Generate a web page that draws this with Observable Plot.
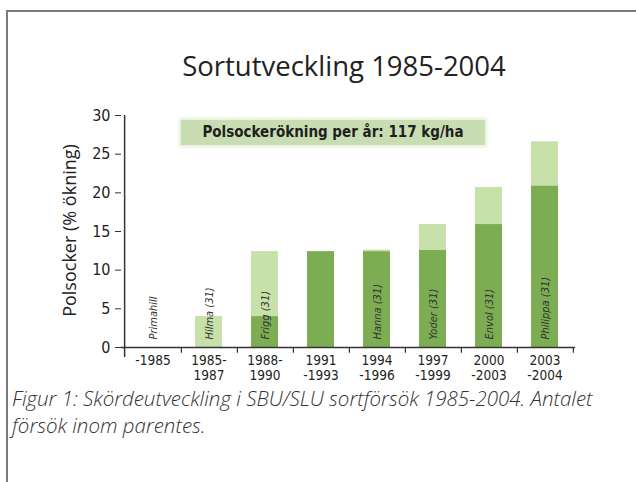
<!DOCTYPE html>
<html>
<head>
<meta charset="utf-8">
<script src="https://cdn.jsdelivr.net/npm/d3@7"></script>
<script src="https://cdn.jsdelivr.net/npm/@observablehq/plot@0.6"></script>
<style>
  body { margin: 0; background: #fff; }
  #wrap { position: relative; width: 636px; height: 482px; overflow: hidden; background: #fff; }
  #frame { position: absolute; left: 6px; top: 10px; width: 660px; height: 500px;
           border-left: 2px solid #7b7b7b; border-top: 2px solid #7b7b7b; }
  #title { position: absolute; left: 0; width: 688px; top: 47px; text-align: center;
           font-family: "Open Sans", sans-serif; font-size: 27.5px; color: #222; }
  #chart { position: absolute; left: 0; top: 0; }
  #badge { position: absolute; left: 181px; top: 120px; width: 304px; height: 25px;
           background: #c9ddb3; box-shadow: 0 0 3px 2px #e6f0d9;
           font-family: "DejaVu Sans Condensed", "DejaVu Sans", sans-serif; font-weight: bold;
           font-size: 15px; line-height: 25px; text-align: center; color: #1f1f1f; }
  #caption { position: absolute; left: 12px; top: 385px; width: 618px;
             font-family: "Open Sans", sans-serif; font-style: italic; font-weight: 300;
             font-size: 20.5px; line-height: 27px; color: #333; }
</style>
</head>
<body>
<div id="wrap">
  <div id="frame"></div>
  <div id="title">Sortutveckling 1985-2004</div>
  <div id="chart"></div>
  <div id="badge">Polsockerökning per år: 117 kg/ha</div>
  <div id="caption">Figur 1: Skördeutveckling i SBU/SLU sortförsök 1985-2004. Antalet försök inom parentes.</div>
</div>
<script>
// ---- data ----
const periods = ["-1985", "1985-1987", "1988-1990", "1991-1993", "1994-1996", "1997-1999", "2000-2003", "2003-2004"];
const tickLabels = ["-1985", "1985-\n1987", "1988-\n1990", "1991\n-1993", "1994\n-1996", "1997\n-1999", "2000\n-2003", "2003\n-2004"];
const varieties = ["Primahill", "Hilma (31)", "Frigg (31)", "", "Hanna (31)", "Yoder (31)", "Envol (31)", "Philippa (31)"];
// dark part: level of the previous variety; light part: gain of the new variety
const baseLevel = [0, 0, 4.0, 12.4, 12.4, 12.6, 15.9, 20.9];
const gainLevel = [0, 4.0, 8.4, 0, 0.2, 3.3, 4.8, 5.7];
const yTicks = [0, 5, 10, 15, 20, 25, 30];
const yTitle = "Polsocker (% ökning)";

const rows = [];
periods.forEach((p, i) => {
  rows.push({period: p, part: "base", value: baseLevel[i]});
  rows.push({period: p, part: "gain", value: gainLevel[i]});
});
const labelRows = periods.map((p, i) => ({period: p, name: varieties[i]})).filter(d => d.name);

const W = 636, H = 400, ML = 121, MR = 61;
const step = (W - ML - MR) / periods.length;

const chart = Plot.plot({
  width: W,
  height: H,
  marginLeft: ML,
  marginRight: MR,
  marginTop: 115,
  marginBottom: 53,
  style: {background: "transparent", color: "#222"},
  x: {type: "band", domain: periods, paddingInner: 0.52, paddingOuter: 0.26, axis: null},
  y: {domain: [0, 30], axis: null},
  color: {domain: ["base", "gain"], range: ["#7dad53", "#c8e1aa"]},
  marks: [
    Plot.barY(rows, Plot.stackY({x: "period", y: "value", fill: "part", order: ["base", "gain"]})),
    Plot.text(labelRows, {x: "period", y: 0, text: "name", rotate: -90, textAnchor: "start", dy: -8,
      fontSize: 11, fontStyle: "italic", fill: "#333", fontFamily: "DejaVu Sans Condensed, sans-serif"}),
    Plot.ruleY([0], {stroke: "#333", strokeWidth: 1.5}),
    // y axis line, at the left edge of the first band, running a little below zero
    Plot.ruleX([periods[0]], {x: d => d, y1: -1.3, y2: 30, dx: -step / 2, stroke: "#333", strokeWidth: 1.5}),
    // separators between the period labels
    Plot.ruleX(periods, {x: d => d, y1: 0, y2: -0.75, dx: step / 2, stroke: "#333", strokeWidth: 1.2}),
    Plot.axisY({ticks: yTicks, tickSize: 6, tickPadding: 5, fontSize: 16, label: null,
      fontFamily: "DejaVu Sans Condensed, sans-serif", stroke: "#333"}),
    Plot.axisX({tickSize: 0, tickPadding: 7, fontSize: 13.5, label: null, lineHeight: 1.1,
      fontFamily: "DejaVu Sans Condensed, sans-serif",
      tickFormat: d => tickLabels[periods.indexOf(d)]}),
    Plot.text([yTitle], {frameAnchor: "left", textAnchor: "middle", rotate: -90, dx: -51, dy: -1,
      fontSize: 18, fontFamily: "Open Sans, sans-serif", fill: "#222"})
  ]
});
document.getElementById("chart").appendChild(chart);
</script>
</body>
</html>
